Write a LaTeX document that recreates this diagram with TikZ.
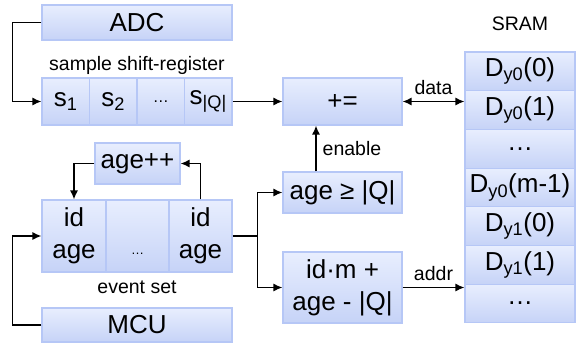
\documentclass[tikz,border=0pt]{standalone}
\usepackage{fontspec}
\setmainfont{Liberation Sans}
\usetikzlibrary{arrows.meta,positioning}

\definecolor{boxtop}{HTML}{E8EEFE}
\definecolor{boxbot}{HTML}{C6D3F7}
\definecolor{boxline}{HTML}{B6C7F6}

\tikzset{
	blk/.style={draw=boxline, line width=1.1pt, top color=boxtop, bottom color=boxbot,
		inner sep=0pt, align=center, font=\fontsize{26}{32}\selectfont},
	lbl/.style={inner sep=0pt, font=\fontsize{19.5}{22}\selectfont},
	wire/.style={line width=1.4pt, >={Latex[length=9pt,width=8pt]}}
}

\begin{document}
\begin{tikzpicture}[x=1pt,y=-1pt]
	\useasboundingbox (0,0) rectangle (576,343);
	% converter and shift register
	\node[blk, minimum width=190, minimum height=35] (adc) at (137,22.5) {ADC};
	\node[lbl] at (137,65) {sample shift-register};
	\foreach \n/\x/\t in {1/65.75/s\textsubscript{1}, 2/113.25/s\textsubscript{2},
		3/160.75/{\fontsize{16}{18}\selectfont…}, 4/208.25/s\textsubscript{|Q|}}
	\node[blk, minimum width=47.5, minimum height=47] (s\n) at (\x,101.5) {\t};
	% accumulator and address logic
	\node[blk, minimum width=119, minimum height=47] (add) at (342.5,101.5) {+=};
	\node[blk, minimum width=119, minimum height=41] (ageq) at (342.5,192.5) {age ≥ |Q|};
	\node[blk, minimum width=119, minimum height=71] (idm) at (342.5,287.5) {id·m +\\age - |Q|};
	% memory
	\node[lbl] at (520,24) {SRAM};
	\foreach \n/\t in {0/D\textsubscript{y0}(0), 1/D\textsubscript{y0}(1), 2/…,
		3/D\textsubscript{y0}(m-1), 4/D\textsubscript{y1}(0), 5/D\textsubscript{y1}(1), 6/…}
	\node[blk, minimum width=110, minimum height=38.7] (sram\n) at (520,71.35+38.7*\n) {\t};
	% event set
	\node[blk, minimum width=85, minimum height=41] (inc) at (137.5,163.5) {age++};
	\node[blk, minimum width=64, minimum height=72] (evt1) at (74,236) {id\\age};
	\node[blk, minimum width=63, minimum height=72] (evt2) at (137.5,236)
		{\phantom{id}\\[-14pt]{\fontsize{13}{15}\selectfont…}};
	\node[blk, minimum width=63, minimum height=72] (evt3) at (200.5,236) {id\\age};
	\node[lbl] at (137,287) {event set};
	\node[blk, minimum width=190, minimum height=34] (mcu) at (137,325) {MCU};

	% connections
	\draw[wire,->] (adc.west) -- ++(-29,0) |- (s1.west);
	\draw[wire,->] (mcu.west) -- ++(-29,0) |- (evt1.west);
	\draw[wire,->] (s4.east) -- (add.west);
	\draw[wire,<->] (add.east) -- (add.east -| sram1.west) node[lbl, midway, above=6pt] {data};
	\draw[wire,->] ([xshift=-26.5]ageq.north) -- ([xshift=-26.5]add.south)
		node[lbl, midway, right=6pt] {enable};
	\coordinate[right=25 of evt3.east] (split);
	\draw[wire] (evt3.east) -- (split);
	\draw[wire,->] (split) |- (ageq.west);
	\draw[wire,->] (split) |- (idm.west);
	\draw[wire,->] (idm.east) -- (idm.east -| sram5.west) node[lbl, midway, above=6pt] {addr};
	\draw[wire,->] (inc.west) -| (evt1.north);
	\draw[wire,->] (evt3.north) |- (inc.east);
\end{tikzpicture}
\end{document}
